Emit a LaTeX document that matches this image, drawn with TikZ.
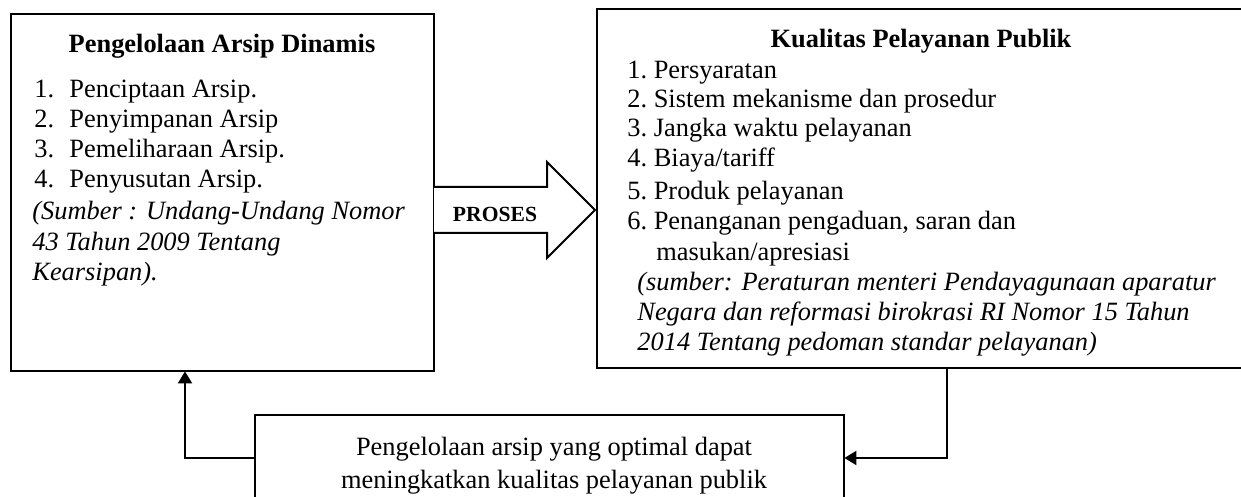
\documentclass[tikz,border=0pt]{standalone}
\usepackage{fontspec}
\setmainfont{Liberation Serif}
\usetikzlibrary{arrows.meta}
\begin{document}
\begin{tikzpicture}[x=0.5pt,y=-0.5pt,
  box/.style={draw=black,line width=1pt,fill=white},
  txt/.style={anchor=base west,inner sep=0pt,font=\fontsize{13.2}{15}\selectfont},
  ttl/.style={anchor=base,inner sep=0pt,font=\fontsize{13.2}{15}\selectfont\bfseries},
  conn/.style={draw=black,line width=1pt,-{Triangle[length=6pt,width=7pt]}}]
\useasboundingbox (0,0) rectangle (1241,497);
\clip (0,0) rectangle (1241,497);
% boxes
\path[box] (11,14) rectangle (434,371);
\node[inner sep=0pt,minimum width=423*0.5pt,minimum height=357*0.5pt] (L) at (222.5,192.5) {};
\path[box] (597,9) rectangle (1260,368);
\node[inner sep=0pt,minimum width=663*0.5pt,minimum height=359*0.5pt] (R) at (928.5,188.5) {};
\path[box] (254.5,415) rectangle (844,520);
\node[inner sep=0pt,minimum width=589.5*0.5pt,minimum height=105*0.5pt] (B) at (549.25,467.5) {};
% big arrow
\draw[line width=1pt,fill=white] (434,187) -- (547,187) -- (547,162) -- (595,210) -- (547,258) -- (547,233) -- (434,233);
\node[inner sep=0pt,anchor=base,font=\fontsize{10.8}{12}\selectfont\bfseries] (proses) at (495,221) {PROSES};
% left text
\node[ttl] (lt) at (222,53) {Pengelolaan Arsip Dinamis};
\node[txt] (l1n) at (34,98) {1.};
\node[txt] (l1) at (69,98) {Penciptaan Arsip.};
\node[txt] (l2n) at (34,128) {2.};
\node[txt] (l2) at (69,128) {Penyimpanan Arsip};
\node[txt] (l3n) at (34,158) {3.};
\node[txt] (l3) at (69,158) {Pemeliharaan Arsip.};
\node[txt] (l4n) at (34,188) {4.};
\node[txt] (l4) at (69,188) {Penyusutan Arsip.};
\node[txt,font=\fontsize{13.2}{15}\selectfont\itshape] (ls1) at (32,220) {(Sumber : Undang-Undang Nomor};
\node[txt,font=\fontsize{13.2}{15}\selectfont\itshape] (ls2) at (32,250) {43 Tahun 2009 Tentang};
\node[txt,font=\fontsize{13.2}{15}\selectfont\itshape] (ls3) at (32,280) {Kearsipan).};
% right text
\node[ttl] (rt) at (921,48) {Kualitas Pelayanan Publik};
\node[txt] (r1) at (627,79) {1.\ Persyaratan};
\node[txt] (r2) at (627,108) {2.\ Sistem mekanisme dan prosedur};
\node[txt] (r3) at (627,137) {3.\ Jangka waktu pelayanan};
\node[txt] (r4) at (627,167) {4.\ Biaya/tariff};
\node[txt] (r5) at (627,199) {5.\ Produk pelayanan};
\node[txt] (r6) at (627,230) {6.\ Penanganan pengaduan, saran dan};
\node[txt] (r6b) at (656,260) {masukan/apresiasi};
\node[txt,font=\fontsize{13.2}{15}\selectfont\itshape] (rs1) at (637,290) {(sumber: Peraturan menteri Pendayagunaan aparatur};
\node[txt,font=\fontsize{13.2}{15}\selectfont\itshape] (rs2) at (637,320) {Negara dan reformasi birokrasi RI Nomor 15 Tahun};
\node[txt,font=\fontsize{13.2}{15}\selectfont\itshape] (rs3) at (637,350) {2014 Tentang pedoman standar pelayanan)};
% bottom text
\node[anchor=base,inner sep=0pt,font=\fontsize{13.2}{15}\selectfont] (b1) at (554,455) {Pengelolaan arsip yang optimal dapat};
\node[anchor=base,inner sep=0pt,font=\fontsize{13.2}{15}\selectfont] (b2) at (554,488) {meningkatkan kualitas pelayanan publik};
% connectors
\coordinate (c1) at (185,458);
\coordinate (c2) at (947,458);
\draw[conn] (B.west |- c1) -- (c1) -- (c1 |- L.south);
\draw[conn] (c2 |- R.south) -- (c2) -- (B.east |- c2);
\end{tikzpicture}
\end{document}
